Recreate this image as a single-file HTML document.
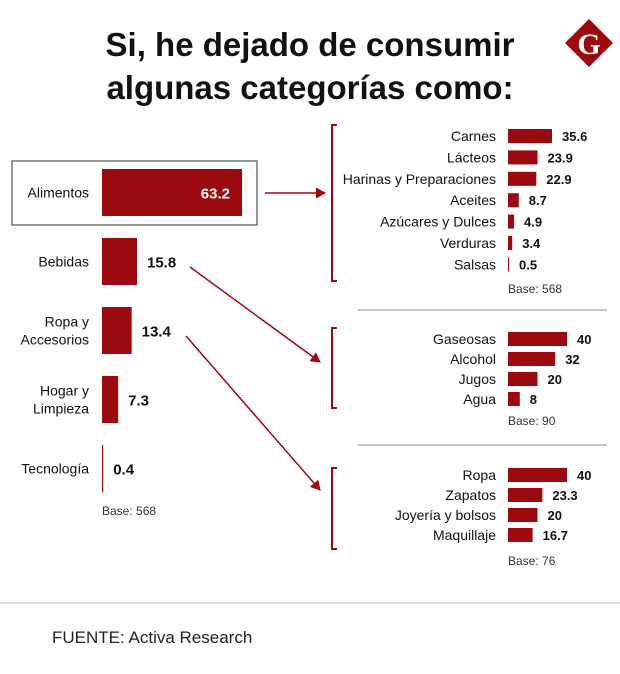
<!DOCTYPE html>
<html><head><meta charset="utf-8"><style>
html,body{margin:0;padding:0;background:#fff;}
svg{display:block;font-family:"Liberation Sans",sans-serif;}
</style></head><body>
<svg id="c" width="620" height="674" viewBox="0 0 620 674" xmlns="http://www.w3.org/2000/svg">
<defs><marker id="ah" markerWidth="11" markerHeight="11" refX="9" refY="5.5" orient="auto" markerUnits="userSpaceOnUse"><path d="M0,0 L10,5.5 L0,11 z" fill="#9a0a0f"/></marker></defs>
<text x="310" y="56" text-anchor="middle" font-size="33" font-weight="bold" fill="#111">Si, he dejado de consumir</text>
<text x="310" y="99" text-anchor="middle" font-size="33" font-weight="bold" fill="#111">algunas categorías como:</text>
<g><path d="M589,19 L613,43 L589,67 L565,43 z" fill="#9a0a0f"/><text x="589" y="54" text-anchor="middle" font-family="Liberation Serif,serif" font-weight="bold" font-size="30" fill="#fff">G</text></g>
<rect x="12" y="161" width="245" height="64" fill="none" stroke="#555" stroke-width="1.2"/>
<g id="main"></g><g id="g1"></g><g id="g2"></g><g id="g3"></g>
<line x1="358" y1="310" x2="607" y2="310" stroke="#888"/>
<line x1="358" y1="445" x2="607" y2="445" stroke="#888"/>
<path d="M337,125 H332 V281 H337" fill="none" stroke="#9a0a0f" stroke-width="2"/>
<path d="M337,328 H332 V408 H337" fill="none" stroke="#9a0a0f" stroke-width="2"/>
<path d="M337,468 H332 V549 H337" fill="none" stroke="#9a0a0f" stroke-width="2"/>
<line x1="265" y1="193" x2="325" y2="193" stroke="#9a0a0f" stroke-width="1.5" marker-end="url(#ah)"/>
<line x1="190" y1="267" x2="320" y2="362" stroke="#9a0a0f" stroke-width="1.5" marker-end="url(#ah)"/>
<line x1="186" y1="336" x2="320" y2="490" stroke="#9a0a0f" stroke-width="1.5" marker-end="url(#ah)"/>
<text x="102" y="515" font-size="12" fill="#333">Base: 568</text>
<text x="508" y="293" font-size="12" fill="#333">Base: 568</text>
<text x="508" y="425" font-size="12" fill="#333">Base: 90</text>
<text x="508" y="565" font-size="12" fill="#333">Base: 76</text>
<line x1="0" y1="603" x2="620" y2="603" stroke="#bbb"/>
<text x="52" y="643" font-size="17" fill="#222">FUENTE: Activa Research</text>
</svg>
<script>
const mainCats=[["Alimentos"],["Bebidas"],["Ropa y","Accesorios"],["Hogar y","Limpieza"],["Tecnología"]];
const mainVals=[63.2,15.8,13.4,7.3,0.4];
const mainLabels=["63.2","15.8","13.4","7.3","0.4"];
const g1Cats=["Carnes","Lácteos","Harinas y Preparaciones","Aceites","Azúcares y Dulces","Verduras","Salsas"];
const g1Vals=[35.6,23.9,22.9,8.7,4.9,3.4,0.5];
const g1Labels=["35.6","23.9","22.9","8.7","4.9","3.4","0.5"];
const g2Cats=["Gaseosas","Alcohol","Jugos","Agua"];
const g2Vals=[40,32,20,8];
const g2Labels=["40","32","20","8"];
const g3Cats=["Ropa","Zapatos","Joyería y bolsos","Maquillaje"];
const g3Vals=[40,23.3,20,16.7];
const g3Labels=["40","23.3","20","16.7"];
const NS="http://www.w3.org/2000/svg";
const RED="#9a0a0f";
function mk(p,t,a){const e=document.createElementNS(NS,t);for(const k in a)e.setAttribute(k,a[k]);p.appendChild(e);return e;}
const mx=v=>v*140/63.2, my=i=>192.5+i*69;
const gm=document.getElementById('main');
mainCats.forEach((c,i)=>{
  const w=Math.max(mx(mainVals[i]),1.2);
  const r=mk(gm,'rect',{x:102,y:my(i)-23.5,width:w,height:47,fill:RED});
  
  
  const t=mk(gm,'text',{x:89,y:0,'text-anchor':'end','font-size':14,fill:'#111'});
  
  
  c.forEach((ln,j)=>{const s=mk(t,'tspan',{x:89,y:my(i)+5+(j-(c.length-1)/2)*18});s.textContent=ln;});
  const inside=i===0;
  const v=mk(gm,'text',{x:inside?102+w-12:102+w+10,y:my(i)+6,'text-anchor':inside?'end':'start','font-size':15,'font-weight':'bold',fill:inside?'#fff':'#111'});
  
  
  v.textContent=mainLabels[i];
});
function group(id,cats,vals,labels,scale,y0,pitch,h){
  const g=document.getElementById(id);
  cats.forEach((c,i)=>{
    const y=y0+i*pitch, w=Math.max(vals[i]*scale,1);
    const r=mk(g,'rect',{x:508,y:y-h/2,width:w,height:h,fill:RED});
    
    
    const t=mk(g,'text',{x:496,y:y+5,'text-anchor':'end','font-size':14,fill:'#111'});
    
    
    t.textContent=c;
    const v=mk(g,'text',{x:508+w+10,y:y+5,'font-size':13,'font-weight':'bold',fill:'#111'});
    
    
    v.textContent=labels[i];
  });
}
group('g1',g1Cats,g1Vals,g1Labels,44/35.6,136,21.4,14);
group('g2',g2Cats,g2Vals,g2Labels,59/40,339,20,14);
group('g3',g3Cats,g3Vals,g3Labels,59/40,475,20,14);
</script>
</body></html>
